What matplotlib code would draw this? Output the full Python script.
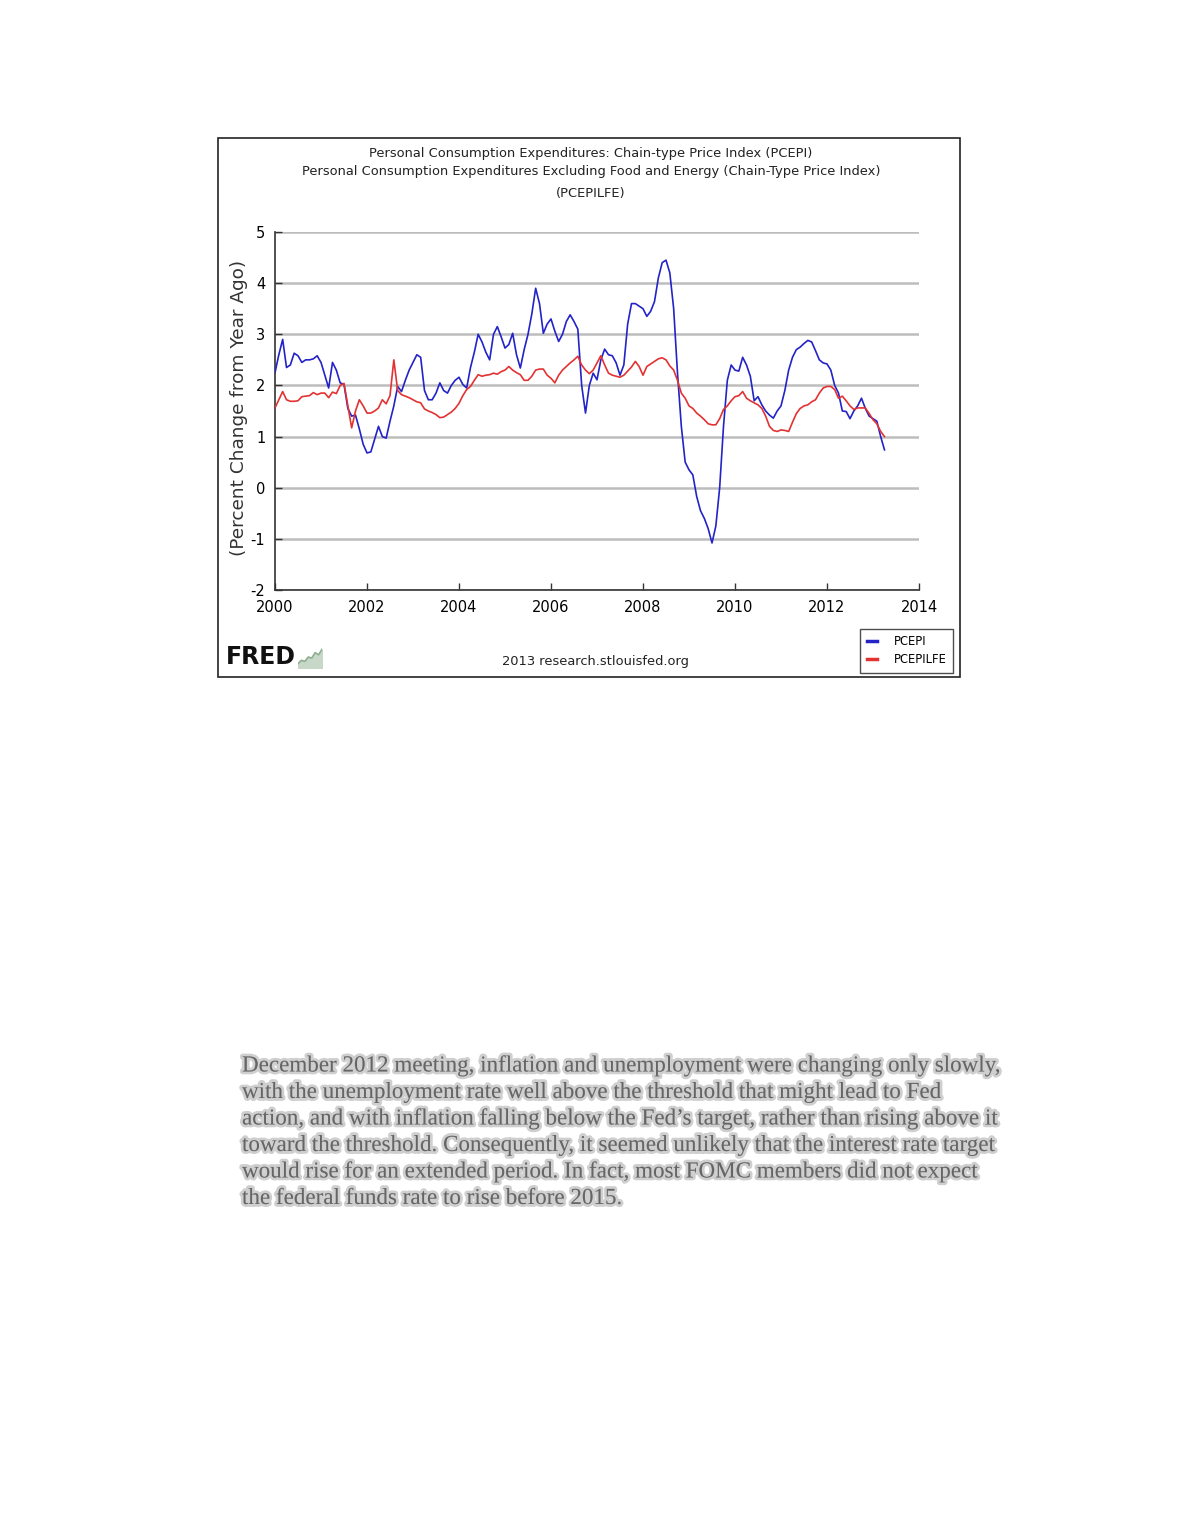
import numpy as np
import pandas as pd
import matplotlib
matplotlib.use("Agg")
import matplotlib.pyplot as plt
import matplotlib.patheffects as pe
from matplotlib import font_manager

# monthly year-over-year % change, Jan 2000 - Apr 2013
pcepi = [
    2.25, 2.6, 2.9, 2.35, 2.4, 2.63, 2.58, 2.45, 2.5, 2.5, 2.52, 2.58,
    2.45, 2.2, 1.95, 2.45, 2.3, 2.05, 2.02, 1.55, 1.4, 1.42, 1.15, 0.85,
    0.68, 0.7, 0.95, 1.2, 1.0, 0.97, 1.3, 1.6, 1.98, 1.88, 2.1, 2.3,
    2.45, 2.6, 2.55, 1.9, 1.72, 1.72, 1.85, 2.05, 1.9, 1.85, 2.0, 2.1,
    2.16, 2.02, 1.95, 2.35, 2.65, 3.0, 2.85, 2.65, 2.5, 3.0, 3.15, 2.95,
    2.73, 2.8, 3.02, 2.6, 2.34, 2.7, 3.0, 3.4, 3.9, 3.6, 3.02, 3.2,
    3.3, 3.06, 2.86, 3.0, 3.25, 3.38, 3.25, 3.1, 2.0, 1.46, 2.0, 2.24,
    2.11, 2.5, 2.71, 2.6, 2.58, 2.44, 2.2, 2.4, 3.2, 3.6, 3.6, 3.55,
    3.5, 3.35, 3.45, 3.64, 4.1, 4.4, 4.45, 4.2, 3.5, 2.24, 1.2, 0.5,
    0.35, 0.25, -0.17, -0.45, -0.6, -0.8, -1.08, -0.75, 0.0, 1.2, 2.1, 2.4,
    2.3, 2.28, 2.55, 2.4, 2.18, 1.7, 1.78, 1.62, 1.5, 1.42, 1.36, 1.5,
    1.6, 1.9, 2.3, 2.55, 2.7, 2.75, 2.82, 2.88, 2.85, 2.68, 2.5, 2.44,
    2.42, 2.3, 2.0, 1.85, 1.5, 1.49, 1.35, 1.5, 1.6, 1.75, 1.55, 1.4,
    1.35, 1.3, 1.0, 0.74,
]
pcepilfe = [
    1.56, 1.72, 1.88, 1.72, 1.69, 1.69, 1.7, 1.78, 1.79, 1.8, 1.86, 1.82,
    1.85, 1.85, 1.76, 1.87, 1.84, 2.0, 2.04, 1.6, 1.17, 1.5, 1.72, 1.6,
    1.46, 1.46, 1.5, 1.56, 1.72, 1.64, 1.8, 2.5, 1.9, 1.82, 1.79, 1.76,
    1.72, 1.68, 1.66, 1.54, 1.5, 1.47, 1.43, 1.37, 1.38, 1.43, 1.48, 1.55,
    1.65, 1.8, 1.92, 1.98, 2.1, 2.21, 2.18, 2.2, 2.21, 2.24, 2.22, 2.27,
    2.3, 2.37, 2.3, 2.25, 2.21, 2.1, 2.1, 2.18, 2.3, 2.32, 2.32, 2.2,
    2.14, 2.05, 2.2, 2.3, 2.37, 2.44, 2.5, 2.57, 2.4, 2.3, 2.23, 2.3,
    2.44, 2.58, 2.4, 2.24, 2.2, 2.18, 2.16, 2.2, 2.28, 2.36, 2.47, 2.37,
    2.2, 2.37, 2.42, 2.47, 2.52, 2.54, 2.5, 2.38, 2.3, 2.1, 1.85, 1.75,
    1.6, 1.55, 1.46, 1.4, 1.33, 1.25, 1.23, 1.23, 1.35, 1.53, 1.6, 1.7,
    1.78, 1.8, 1.88, 1.75, 1.7, 1.66, 1.62, 1.55, 1.4, 1.2, 1.12, 1.1,
    1.13, 1.12, 1.1, 1.28, 1.45, 1.55, 1.6, 1.62, 1.68, 1.72, 1.85, 1.95,
    1.98, 1.98, 1.92, 1.75, 1.79, 1.7, 1.6, 1.53, 1.56, 1.56, 1.56, 1.45,
    1.33, 1.25, 1.1, 1.0,
]
dates = pd.date_range("2000-01-01", periods=len(pcepi), freq="MS")
year_frac = dates.year + (dates.month - 1) / 12

x_ticks = [2000, 2002, 2004, 2006, 2008, 2010, 2012, 2014]
y_ticks = [-2, -1, 0, 1, 2, 3, 4, 5]

title_lines = [
    "Personal Consumption Expenditures: Chain-type Price Index (PCEPI)",
    "Personal Consumption Expenditures Excluding Food and Energy (Chain-Type Price Index)",
    "(PCEPILFE)",
]
paragraph = [
    "December 2012 meeting, inflation and unemployment were changing only slowly,",
    "with the unemployment rate well above the threshold that might lead to Fed",
    "action, and with inflation falling below the Fed\u2019s target, rather than rising above it",
    "toward the threshold. Consequently, it seemed unlikely that the interest rate target",
    "would rise for an extended period. In fact, most FOMC members did not expect",
    "the federal funds rate to rise before 2015.",
]
icon_values = [0.2, 0.35, 0.3, 0.5, 0.45, 0.7, 0.6, 0.85]

names = {f.name for f in font_manager.fontManager.ttflist}
narrow = "DejaVu Sans"
for cand in ["Liberation Sans Narrow", "DejaVu Sans Condensed"]:
    if cand in names:
        narrow = cand
        break

W, H = 1180, 1527
fig = plt.figure(figsize=(W / 100, H / 100), dpi=100)
fig.patch.set_facecolor("white")


def fx(x):
    return x / W


def fy(y):
    return 1 - y / H


# outer frame of the FRED graphic
frame = plt.Rectangle((fx(218), fy(677)), fx(960) - fx(218), fy(138) - fy(677),
                      transform=fig.transFigure, fill=False, edgecolor="#222222", lw=1.2)
fig.add_artist(frame)

ax = fig.add_axes([fx(275), fy(590), fx(919) - fx(275), fy(232) - fy(590)])
ax.plot(year_frac, pcepi, color="#2323c8", lw=1.2, label="PCEPI", zorder=3)
ax.plot(year_frac, pcepilfe, color="#e23232", lw=1.2, label="PCEPILFE", zorder=3)

ax.set_xlim(2000, 2014)
ax.set_ylim(-2, 5)
ax.set_xticks(x_ticks)
ax.set_yticks(y_ticks)
ax.set_xticklabels([str(t) for t in x_ticks], fontfamily=narrow, fontsize=10.5)
ax.set_yticklabels([str(t) for t in y_ticks], fontfamily=narrow, fontsize=10.5)
ax.tick_params(axis="both", direction="in", length=5, width=1, color="#333333", pad=7)
ax.yaxis.grid(True, color="#bdbdbd", lw=1.8)
ax.set_axisbelow(True)
for s in ["top", "right"]:
    ax.spines[s].set_visible(False)
for s in ["left", "bottom"]:
    ax.spines[s].set_color("#333333")
    ax.spines[s].set_linewidth(1.2)

fig.text(fx(239), fy(408), "(Percent Change from Year Ago)", rotation=90,
         ha="center", va="center", fontsize=13.3, color="#333333")

for y, line in zip([153, 172, 193], title_lines):
    fig.text(fx(591), fy(y), line, ha="center", va="center",
             fontfamily=narrow, fontsize=9.4, color="#222222")

fig.text(fx(595), fy(661), "2013 research.stlouisfed.org", ha="center", va="center",
         fontfamily=narrow, fontsize=9.4, color="#222222")

fig.text(fx(226), fy(657), "FRED", ha="left", va="center", fontfamily=narrow,
         fontsize=17, fontweight="bold", color="#111111")
icon = fig.add_axes([fx(298), fy(668), fx(322) - fx(298), fy(646) - fy(668)])
icon.plot(range(len(icon_values)), icon_values, color="#8fae8f", lw=1.2)
icon.fill_between(range(len(icon_values)), icon_values, 0, color="#c8d8c8")
icon.set_xlim(0, len(icon_values) - 1)
icon.set_ylim(0, 1)
icon.axis("off")

leg = ax.legend(loc="lower left", bbox_to_anchor=(fx(860), fy(673)),
                bbox_transform=fig.transFigure, frameon=True, fancybox=False,
                prop={"family": narrow, "size": 8.3}, handlelength=0.9,
                handletextpad=1.4, borderpad=0.6, labelspacing=0.4,
                borderaxespad=0)
leg.get_frame().set_edgecolor("#222222")
leg.get_frame().set_linewidth(1.0)
for h in leg.get_lines():
    h.set_linewidth(2.5)
leg._legend_box.align = "left"

blur = [pe.withStroke(linewidth=4, foreground="#777777", alpha=0.35)]
for i, line in enumerate(paragraph):
    fig.text(fx(242), fy(1066 + i * 26.5), line, ha="left", va="center",
             fontfamily="Liberation Serif", fontsize=16.6, color="#555555",
             path_effects=blur, alpha=0.8)

fig.savefig("out.png", dpi=100, facecolor="white")
